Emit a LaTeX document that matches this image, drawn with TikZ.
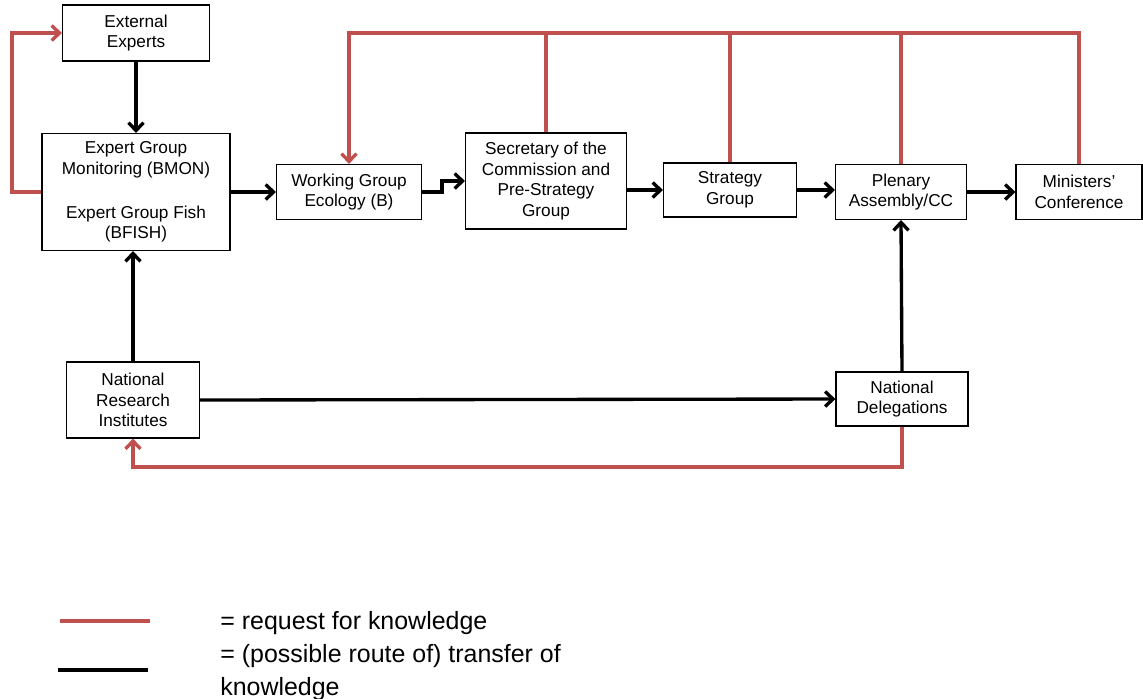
\documentclass[tikz,border=0pt]{standalone}
\usepackage{fontspec}
\setmainfont{Liberation Sans}
\usepackage{tikz}
\usetikzlibrary{arrows.meta}
\definecolor{reqred}{HTML}{C0504D}

\begin{document}
\begin{tikzpicture}[x=0.02cm,y=-0.02cm,
	box/.style={draw,line width=0.6pt,align=center,inner sep=2pt,
		font=\fontsize{9.8}{11.8}\selectfont},
	tip/.style={-{Straight Barb[width=8.5pt,length=4.5pt]}},
	flow/.style={line width=1.9pt,tip},
	req/.style={line width=1.9pt,reqred},
	legtext/.style={anchor=north west,align=left,inner sep=0pt,
		font=\fontsize{14.2}{18.7}\selectfont}]
	\useasboundingbox (0,0) rectangle (1143,698);
	% boxes
	\node[box,minimum width=2.94cm,minimum height=1.12cm] (ext) at (136,33) {External\\Experts};
	\node[box,minimum width=3.76cm,minimum height=2.34cm] (egroup) at (136,192) {Expert Group\\Monitoring (BMON)\\[13pt]Expert Group Fish\\(BFISH)};
	\node[box,minimum width=2.9cm,minimum height=1.1cm] (wg) at (349,192) {Working Group\\Ecology (B)};
	\node[box,minimum width=3.22cm,minimum height=1.92cm] (sec) at (546,181) {Secretary of the\\Commission and\\Pre-Strategy\\Group};
	\node[box,minimum width=2.66cm,minimum height=1.08cm] (strat) at (730,190) {Strategy\\Group};
	\node[box,minimum width=2.62cm,minimum height=1.1cm] (plen) at (901,192) {Plenary\\Assembly/CC};
	\node[box,minimum width=2.52cm,minimum height=1.1cm] (mini) at (1079,192) {Ministers'\\Conference};
	\node[box,minimum width=2.66cm,minimum height=1.52cm] (nri) at (133,400) {National\\Research\\Institutes};
	\node[box,minimum width=2.64cm,minimum height=1.08cm] (natdel) at (902,399) {National\\Delegations};
	\coordinate (topbar) at (0,33);		%red request line on top
	\coordinate (leftbar) at (12,0);	%red loop left of expert groups
	\coordinate (botbar) at (0,467);	%red line under national institutes

	% transfer of knowledge
	\draw[flow] (ext) -- (egroup);
	\draw[flow] (egroup.east) -- (wg.west);
	\draw[flow] (wg.east) -- ++(20,0) |- (sec.west);
	\draw[flow] (strat.west -| sec.east) -- (strat.west);
	\draw[flow] (strat.east) -- (plen.west |- strat.east);
	\draw[flow] (plen.east) -- (mini.west);
	\draw[flow] (nri.north) -- (nri.north |- egroup.south);
	\draw[flow] (nri.east) -- (natdel.west);
	\draw[flow] (natdel.north) -- (plen.south);

	% requests for knowledge
	\draw[req,tip] (egroup.west) -- (egroup.west -| leftbar) |- (ext.west);
	\draw[req,tip] (mini.north) |- (wg.north |- topbar) -- (wg.north);
	\foreach \b in {sec,strat,plen}{
		\draw[req] (\b.north) -- (\b.north |- topbar);
	}
	\draw[req,tip] (natdel.south) -- (natdel.south |- botbar) -| (nri.south);

	% legend
	\coordinate (l1) at (60,621);
	\coordinate (l2) at (58,670);
	\draw[reqred,line width=2.3pt] (l1) -- ++(90,0);
	\draw[line width=2.3pt] (l2) -- ++(90,0);
	\node[legtext] (legreq) at (220,611) {= request for knowledge};
	\node[legtext] (legtrans) at (220,644) {= (possible route of) transfer of\\knowledge};
\end{tikzpicture}
\end{document}
